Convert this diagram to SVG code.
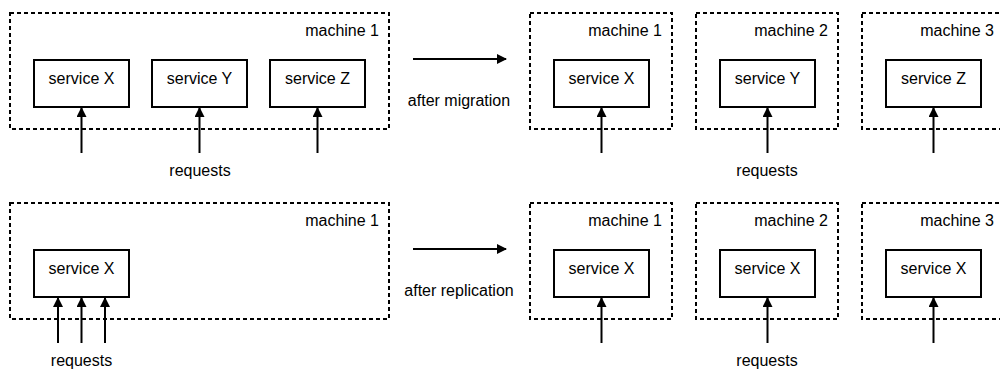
<svg xmlns="http://www.w3.org/2000/svg" width="1000" height="372" viewBox="0 0 1000 372">
<defs>
<marker id="ah" markerWidth="10" markerHeight="10" viewBox="0 0 10 10" refX="9" refY="5" orient="auto" markerUnits="userSpaceOnUse">
<path d="M0,0 L10,5 L0,10 z" fill="#000"/>
</marker>
<style>
.m{fill:#fff;stroke:#000;stroke-width:2;stroke-dasharray:4 3}
.s{fill:#fff;stroke:#000;stroke-width:2}
.t{font-family:"Liberation Sans",Arial,sans-serif;font-size:16px;fill:#000}
.c{text-anchor:middle}
.r{text-anchor:end}
.a{stroke:#000;stroke-width:2;fill:none;marker-end:url(#ah)}
</style>
</defs>
<rect width="1000" height="372" fill="#fff"/>

<!-- top row, before -->
<g id="top-machine1">
<rect class="m" x="10" y="13" width="379" height="116"/>
<text class="t r" x="379" y="36">machine 1</text>
</g>
<g id="top-serviceX"><rect class="s" x="34" y="60" width="95" height="47"/><text class="t c" x="81.5" y="84">service X</text></g>
<g id="top-serviceY"><rect class="s" x="152" y="60" width="95" height="47"/><text class="t c" x="199.5" y="84">service Y</text></g>
<g id="top-serviceZ"><rect class="s" x="270" y="60" width="95" height="47"/><text class="t c" x="317.5" y="84">service Z</text></g>
<text class="t c" x="200" y="176">requests</text>

<!-- top row, after -->
<g id="tm1"><rect class="m" x="530" y="13" width="142" height="116"/><text class="t r" x="662" y="36">machine 1</text></g>
<g id="tm2"><rect class="m" x="696" y="13" width="142" height="116"/><text class="t r" x="828" y="36">machine 2</text></g>
<g id="tm3"><rect class="m" x="862" y="13" width="142" height="116"/><text class="t r" x="994" y="36">machine 3</text></g>
<g id="tsX"><rect class="s" x="554" y="60" width="95" height="47"/><text class="t c" x="601.5" y="84">service X</text></g>
<g id="tsY"><rect class="s" x="720" y="60" width="95" height="47"/><text class="t c" x="767.5" y="84">service Y</text></g>
<g id="tsZ"><rect class="s" x="886" y="60" width="95" height="47"/><text class="t c" x="933.5" y="84">service Z</text></g>
<text class="t c" x="459" y="106">after migration</text>
<text class="t c" x="767" y="176">requests</text>

<!-- bottom row, before -->
<g id="bot-machine1">
<rect class="m" x="10" y="203" width="379" height="116"/>
<text class="t r" x="379" y="226">machine 1</text>
</g>
<g id="bot-serviceX"><rect class="s" x="34" y="250" width="95" height="47"/><text class="t c" x="81.5" y="274">service X</text></g>
<text class="t c" x="81.5" y="366">requests</text>

<!-- bottom row, after -->
<g id="bm1"><rect class="m" x="530" y="203" width="142" height="116"/><text class="t r" x="662" y="226">machine 1</text></g>
<g id="bm2"><rect class="m" x="696" y="203" width="142" height="116"/><text class="t r" x="828" y="226">machine 2</text></g>
<g id="bm3"><rect class="m" x="862" y="203" width="142" height="116"/><text class="t r" x="994" y="226">machine 3</text></g>
<g id="bsX1"><rect class="s" x="554" y="250" width="95" height="47"/><text class="t c" x="601.5" y="274">service X</text></g>
<g id="bsX2"><rect class="s" x="720" y="250" width="95" height="47"/><text class="t c" x="767.5" y="274">service X</text></g>
<g id="bsX3"><rect class="s" x="886" y="250" width="95" height="47"/><text class="t c" x="933.5" y="274">service X</text></g>
<text class="t c" x="459" y="296">after replication</text>
<text class="t c" x="767" y="366">requests</text>

<g id="connectors">
<line class="a" x1="81.5" y1="153" x2="81.5" y2="108"/>
<line class="a" x1="199.5" y1="153" x2="199.5" y2="108"/>
<line class="a" x1="317.5" y1="153" x2="317.5" y2="108"/>
<line class="a" x1="413" y1="59" x2="506" y2="59"/>
<line class="a" x1="601.5" y1="153" x2="601.5" y2="108"/>
<line class="a" x1="767.5" y1="153" x2="767.5" y2="108"/>
<line class="a" x1="933.5" y1="153" x2="933.5" y2="108"/>
<line class="a" x1="58" y1="343" x2="58" y2="298"/>
<line class="a" x1="81.5" y1="343" x2="81.5" y2="298"/>
<line class="a" x1="105" y1="343" x2="105" y2="298"/>
<line class="a" x1="413" y1="249" x2="506" y2="249"/>
<line class="a" x1="601.5" y1="343" x2="601.5" y2="298"/>
<line class="a" x1="767.5" y1="343" x2="767.5" y2="298"/>
<line class="a" x1="933.5" y1="343" x2="933.5" y2="298"/>
</g>
</svg>
